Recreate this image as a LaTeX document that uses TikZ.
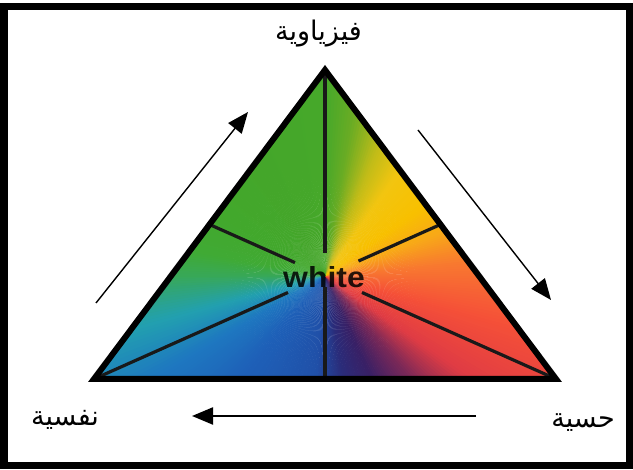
\documentclass[tikz,border=0pt]{standalone}
\usepackage{fontspec}
\setmainfont{Liberation Sans}
\newfontfamily\arabicfont[Script=Arabic]{DejaVu Sans}
\TeXXeTstate=1
\usetikzlibrary{arrows.meta,calc}
\definecolor{s01}{HTML}{38A858}
\definecolor{s02}{HTML}{22A0B0}
\definecolor{s03}{HTML}{1E78C0}
\definecolor{s04}{HTML}{1E60B8}
\definecolor{s05}{HTML}{2050A8}
\definecolor{s06}{HTML}{2A2C7A}
\definecolor{s07}{HTML}{3A2065}
\definecolor{s08}{HTML}{7A2858}
\definecolor{s09}{HTML}{E03C44}
\definecolor{s10}{HTML}{F55038}
\definecolor{s11}{HTML}{F87830}
\definecolor{s12}{HTML}{F8A818}
\definecolor{s13}{HTML}{F8C000}
\definecolor{s14}{HTML}{F2C510}
\definecolor{s15}{HTML}{C0BC18}
\definecolor{s16}{HTML}{6AAC24}
\definecolor{s17}{HTML}{46A82A}
\definecolor{s18}{HTML}{44A62A}
\definecolor{s19}{HTML}{42A82C}
\definecolor{s20}{HTML}{40AA35}
\tikzset{
  median/.style={line width=3.2pt, black!90},
  flowarrow/.style={line width=1.4pt, -{Triangle[length=21pt,width=17pt]}},
  label/.style={font=\arabicfont\fontsize{27}{30}\selectfont, inner sep=0pt},
}
\begin{document}
\begin{tikzpicture}[x=1pt,y=1pt]
\useasboundingbox (0,0) rectangle (633,470);
\fill[white] (0,0) rectangle (633,470);
\draw[line width=7pt] (4,4) rectangle (629.5,463.5);

\coordinate (A) at (325,400);
\coordinate (L) at (94,91);
\coordinate (R) at (556,91);
\coordinate (C) at (325,194);
\coordinate (MB) at ($(L)!0.5!(R)$);
\coordinate (ML) at ($(A)!0.5!(L)$);
\coordinate (MR) at ($(A)!0.5!(R)$);

\begin{scope}
\clip (A) -- (L) -- (R) -- cycle;
\foreach \a/\b/\ca/\cb in {-180/-165/s01/s02, -165/-150/s02/s03, -150/-130/s03/s04,
  -130/-95/s04/s05, -95/-80/s05/s06, -80/-65/s06/s07, -65/-50/s07/s08,
  -50/-35/s08/s09, -35/-15/s09/s10, -15/5/s10/s11, 5/20/s11/s12, 20/35/s12/s13,
  35/55/s13/s14, 55/68/s14/s15, 68/80/s15/s16, 80/90/s16/s17, 90/120/s17/s18,
  120/150/s18/s19, 150/170/s19/s20, 170/180/s20/s01}{
  \pgfmathtruncatemacro{\n}{\b-\a}
  \foreach \i in {1,...,\n}{
    \pgfmathsetmacro{\ang}{\a+\i-1}
    \pgfmathtruncatemacro{\p}{100*(\i-0.5)/\n}
    \fill[\cb!\p!\ca] (C) -- +(\ang:460) -- +(\ang+1.3:460) -- cycle;
  }
}
\end{scope}

\coordinate (eA) at ($(A)!0.89!(C)$);
\coordinate (eB) at ($(MB)!0.89!(C)$);
\coordinate (eML) at ($(ML)!0.74!(C)$);
\coordinate (eMR) at ($(MR)!0.71!(C)$);
\coordinate (eL) at ($(L)!0.84!(C)$);
\coordinate (eR) at ($(R)!0.84!(C)$);
\draw[median] (A) -- (eA);
\draw[median] (MB) -- (eB);
\draw[median] (ML) -- (eML);
\draw[median] (MR) -- (eMR);
\draw[median] (L) -- (eL);
\draw[median] (R) -- (eR);

\draw[line width=6pt, line join=miter] (A) -- (L) -- (R) -- cycle;

\node[font=\bfseries\fontsize{29}{32}\selectfont, text=black, opacity=0.85, xscale=1.1, inner sep=0pt] (w) at (324,193) {white};

\coordinate (p1s) at (96,167);
\coordinate (p1e) at (248,358);
\coordinate (p2s) at (418,340);
\coordinate (p2e) at (551,170);
\coordinate (p3s) at (476,54);
\coordinate (p3e) at (192,54);
\draw[flowarrow] (p1s) -- (p1e);
\draw[flowarrow] (p2s) -- (p2e);
\draw[flowarrow, line width=2.2pt] (p3s) -- (p3e);

\node[label] (top) at (318.5,436) {\beginR فيزياوية\endR};
\node[label] (bl) at (65,50) {\beginR نفسية\endR};
\node[label] (br) at (583,47) {\beginR حسية\endR};
\end{tikzpicture}
\end{document}
